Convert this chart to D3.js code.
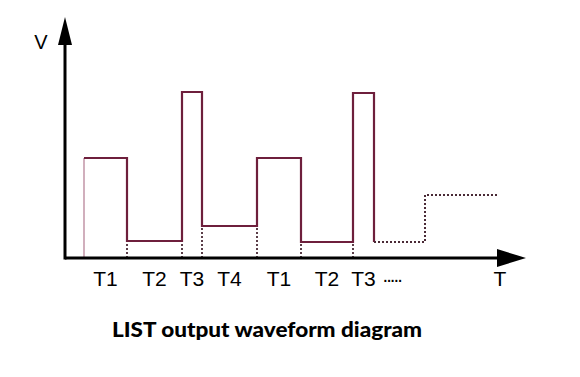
<!DOCTYPE html>
<html>
<head>
<meta charset="utf-8">
<script src="https://cdn.jsdelivr.net/npm/d3@7"></script>
<style>
  html, body { margin: 0; padding: 0; background: #fff; }
  svg { display: block; }
</style>
</head>
<body>
<svg id="chart" width="580" height="377"></svg>
<script>
// step boundaries (time units) and the level held after each boundary
const edges = [1.9, 6.2, 11.7, 13.7, 19.2, 23.6, 28.8, 30.9];
const levels = [10, 1.7, 16.6, 3.2, 10, 1.6, 16.5, 1.6];
// continuation drawn dotted
const tailEdges = [30.9, 36.0, 43.3];
const tailLevels = [1.6, 6.3, 6.3];
const tickLabels = ['T1', 'T2', 'T3', 'T4', 'T1', 'T2', 'T3'];

const svg = d3.select('#chart');
const x = d3.scaleLinear().domain([0, 46]).range([65, 525]);
const y = d3.scaleLinear().domain([0, 24]).range([258, 18]);

const wave = '#6e1f3c';
const dotted = '#4a2a36';

// solid waveform
const pts = [];
for (let i = 0; i < edges.length; i++) {
  if (i > 0) pts.push([edges[i], levels[i - 1]]);
  pts.push([edges[i], levels[i]]);
  if (i < edges.length - 1) pts.push([edges[i + 1], levels[i]]);
}
pts.shift(); // first rising edge drawn as thin line
const line = d3.line().x(d => x(d[0])).y(d => y(d[1]));

// thin first rising edge
svg.append('line')
  .attr('x1', x(edges[0])).attr('x2', x(edges[0]))
  .attr('y1', y(0)).attr('y2', y(levels[0]))
  .attr('stroke', '#b27a90').attr('stroke-width', 1.2);

// dotted drop lines under each edge
for (let i = 1; i < edges.length - 1; i++) {
  const lv = Math.min(levels[i - 1], levels[i]);
  svg.append('line')
    .attr('x1', x(edges[i])).attr('x2', x(edges[i]))
    .attr('y1', y(0)).attr('y2', y(lv))
    .attr('stroke', dotted).attr('stroke-width', 1.8)
    .attr('stroke-dasharray', '2,2');
}

svg.append('path')
  .attr('d', line([[edges[0], levels[0]], ...pts.slice(1)]))
  .attr('fill', 'none').attr('stroke', wave).attr('stroke-width', 2.2);

// dotted tail
const tail = [];
for (let i = 0; i < tailEdges.length; i++) {
  if (i > 0) tail.push([tailEdges[i], tailLevels[i - 1]]);
  tail.push([tailEdges[i], tailLevels[i]]);
}
svg.append('path')
  .attr('d', line(tail))
  .attr('fill', 'none').attr('stroke', dotted).attr('stroke-width', 2)
  .attr('stroke-dasharray', '2,2');

// axes
svg.append('line')
  .attr('x1', x(0)).attr('x2', 500).attr('y1', y(0)).attr('y2', y(0))
  .attr('stroke', '#000').attr('stroke-width', 3);
svg.append('line')
  .attr('x1', x(0)).attr('x2', x(0)).attr('y1', y(0) + 1.5).attr('y2', 44)
  .attr('stroke', '#000').attr('stroke-width', 3);
svg.append('path')
  .attr('d', `M${x(0) - 7},45 L${x(0)},17 L${x(0) + 7},45 Z`)
  .attr('fill', '#000');
svg.append('path')
  .attr('d', `M497,${y(0) - 9} L526,${y(0)} L497,${y(0) + 9} Z`)
  .attr('fill', '#000');

svg.append('text')
  .attr('x', 41).attr('y', 49)
  .attr('text-anchor', 'middle')
  .attr('font-family', 'Liberation Sans, Arial, sans-serif')
  .attr('font-size', 20)
  .text('V');

// tick labels at middle of each interval
const font = 'Liberation Sans, Arial, sans-serif';
tickLabels.forEach((t, i) => {
  svg.append('text')
    .attr('x', x((edges[i] + edges[i + 1]) / 2))
    .attr('y', 286)
    .attr('text-anchor', 'middle')
    .attr('font-family', font)
    .attr('font-size', 21)
    .text(t);
});
svg.append('text')
  .attr('x', 382).attr('y', 286)
  .attr('font-family', font).attr('font-size', 20)
  .attr('letter-spacing', -3)
  .text('·····');
svg.append('text')
  .attr('x', 500).attr('y', 286)
  .attr('text-anchor', 'middle')
  .attr('font-family', font).attr('font-size', 21)
  .text('T');

svg.append('text')
  .attr('x', 112).attr('y', 337)
  .attr('font-family', 'Lato, Open Sans, sans-serif')
  .attr('font-weight', 900)
  .attr('font-size', 21)
  .attr('textLength', 310)
  .attr('lengthAdjust', 'spacingAndGlyphs')
  .text('LIST output waveform diagram');
</script>
</body>
</html>
